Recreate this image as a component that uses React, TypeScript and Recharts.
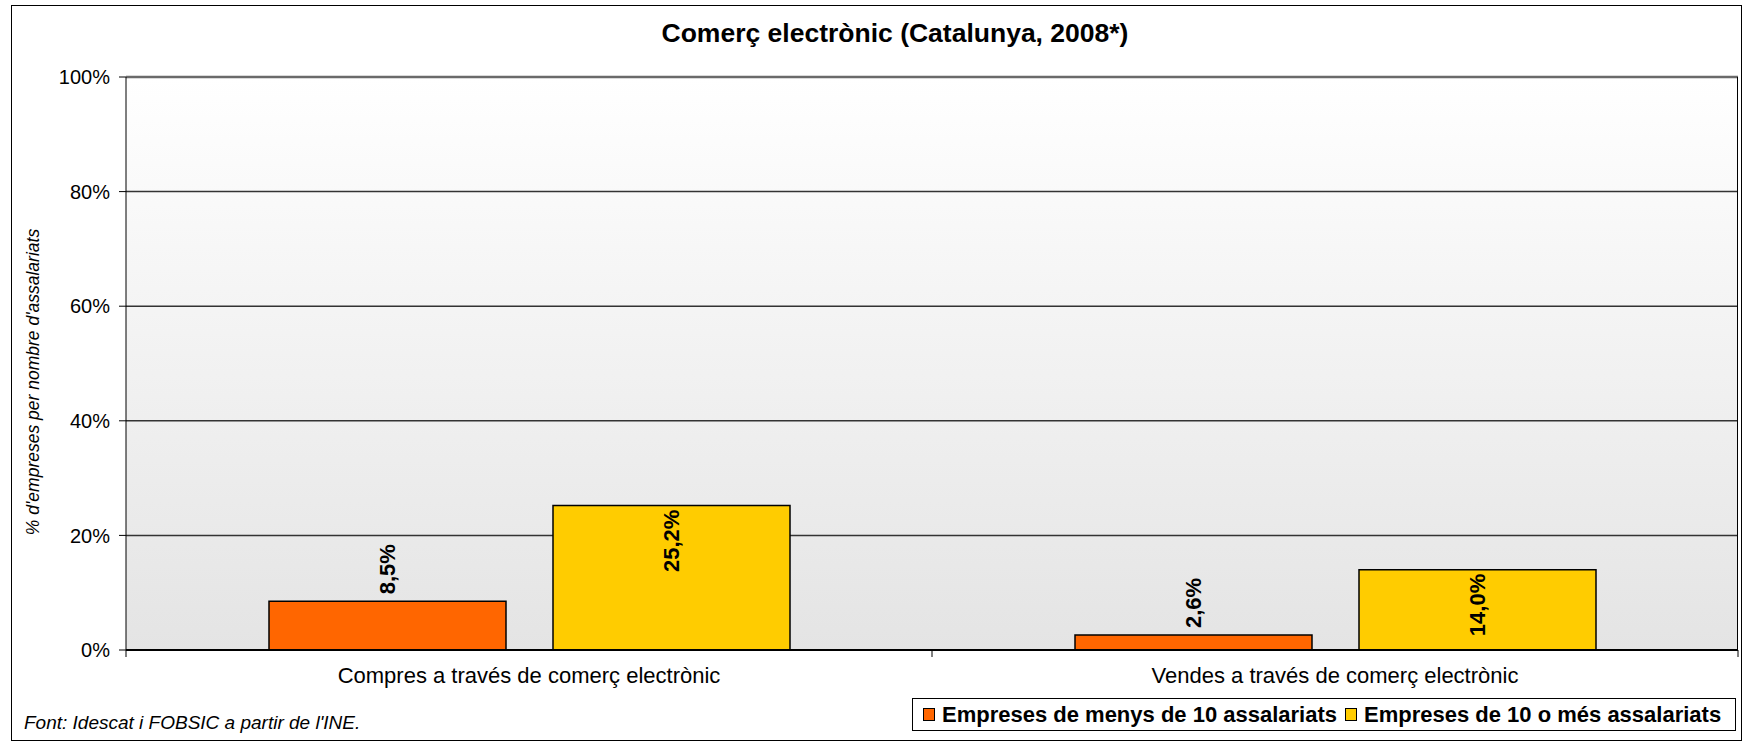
import React from "react";
import {
  BarChart,
  Bar,
  XAxis,
  YAxis,
  CartesianGrid,
  LabelList,
  ReferenceLine,
} from "recharts";

const categories = [
  "Compres a través de comerç electrònic",
  "Vendes a través de comerç electrònic",
];
const seriesNames = [
  "Empreses de menys de 10 assalariats",
  "Empreses de 10 o més assalariats",
];
const smallFirms = [8.5, 2.6];
const largeFirms = [25.2, 14.0];
const yTicks = [0, 20, 40, 60, 80, 100];

const title = "Comerç electrònic (Catalunya, 2008*)";
const yLabel = "% d'empreses per nombre d'assalariats";
const source = "Font: Idescat i FOBSIC a partir de l'INE.";

const W = 1742;
const H = 746;
const PLOT_LEFT = 126;
const PLOT_RIGHT = 1738;
const PLOT_TOP = 77;
const PLOT_BOTTOM = 650;
const BAND = (PLOT_RIGHT - PLOT_LEFT) / categories.length;
const FONT = "'Liberation Sans', Arial, sans-serif";
const COLORS = ["#FF6600", "#FFCC00"];

const data = categories.map((name, i) => ({
  name,
  small: smallFirms[i],
  large: largeFirms[i],
}));

const fmt = (v: number) => v.toFixed(1).replace(".", ",") + "%";

const XTick = (props: any) => {
  const { x, payload, index } = props;
  const left = x - BAND / 2;
  const right = x + BAND / 2;
  return (
    <g>
      <line x1={left} x2={left} y1={PLOT_BOTTOM} y2={PLOT_BOTTOM + 7} stroke="#000" />
      {index === categories.length - 1 && (
        <line x1={right} x2={right} y1={PLOT_BOTTOM} y2={PLOT_BOTTOM + 7} stroke="#000" />
      )}
      <text
        x={x}
        y={675}
        textAnchor="middle"
        dominantBaseline="central"
        fontSize={22}
        fontFamily={FONT}
        fill="#000"
      >
        {payload.value}
      </text>
    </g>
  );
};

const outsideLabel = (props: any) => {
  const { x, y, width, value } = props;
  const cx = x + width / 2;
  const cy = y - 7;
  return (
    <text
      x={cx}
      y={cy}
      transform={`rotate(-90 ${cx} ${cy})`}
      textAnchor="start"
      dominantBaseline="central"
      fontSize={22}
      fontWeight="bold"
      fontFamily={FONT}
      fill="#000"
    >
      {fmt(value)}
    </text>
  );
};

const insideLabel = (props: any) => {
  const { x, y, width, value } = props;
  const cx = x + width / 2;
  const cy = y + 4;
  return (
    <text
      x={cx}
      y={cy}
      transform={`rotate(-90 ${cx} ${cy})`}
      textAnchor="end"
      dominantBaseline="central"
      fontSize={22}
      fontWeight="bold"
      fontFamily={FONT}
      fill="#000"
    >
      {fmt(value)}
    </text>
  );
};

export default function App() {
  return (
    <div
      style={{
        position: "absolute",
        left: 0,
        top: 0,
        width: W,
        height: H,
        background: "#fff",
        fontFamily: FONT,
      }}
    >
      {/* outer frame */}
      <div
        style={{
          position: "absolute",
          left: 11,
          top: 5,
          width: 1729,
          height: 734,
          border: "1px solid #000",
        }}
      />
      <BarChart
        width={W}
        height={H}
        data={data}
        margin={{ top: PLOT_TOP, right: W - PLOT_RIGHT, bottom: 36, left: 0 }}
        barCategoryGap={143}
        barGap={47}
        style={{ position: "absolute", left: 0, top: 0 }}
      >
        <defs>
          <linearGradient id="plotBg" x1="0" y1="0" x2="0" y2="1">
            <stop offset="0%" stopColor="#ffffff" />
            <stop offset="100%" stopColor="#e4e4e4" />
          </linearGradient>
        </defs>
        <CartesianGrid
          vertical={false}
          stroke="#333"
          strokeWidth={1.5}
          fill="url(#plotBg)"
          fillOpacity={1}
        />
        <ReferenceLine y={100} stroke="#6a6a6a" strokeWidth={2.5} />
        <XAxis
          dataKey="name"
          height={60}
          axisLine={{ stroke: "#000", strokeWidth: 2 }}
          tickLine={false}
          tick={<XTick />}
          interval={0}
        />
        <YAxis
          width={PLOT_LEFT}
          domain={[0, 100]}
          ticks={yTicks}
          tickFormatter={(v: number) => `${v}%`}
          tickSize={7}
          tickMargin={9}
          axisLine={{ stroke: "#000" }}
          tickLine={{ stroke: "#000" }}
          tick={{ fontSize: 20, fill: "#000", fontFamily: FONT }}
        />
        <Bar
          dataKey="small"
          name={seriesNames[0]}
          fill={COLORS[0]}
          stroke="#000"
          strokeWidth={1.5}
          isAnimationActive={false}
        >
          <LabelList dataKey="small" content={outsideLabel} />
        </Bar>
        <Bar
          dataKey="large"
          name={seriesNames[1]}
          fill={COLORS[1]}
          stroke="#000"
          strokeWidth={1.5}
          isAnimationActive={false}
        >
          <LabelList dataKey="large" content={insideLabel} />
        </Bar>
      </BarChart>

      {/* plot right border */}
      <div
        style={{
          position: "absolute",
          left: PLOT_RIGHT - 1,
          top: PLOT_TOP,
          width: 1,
          height: PLOT_BOTTOM - PLOT_TOP,
          background: "#000",
        }}
      />

      <svg
        width={W}
        height={H}
        style={{ position: "absolute", left: 0, top: 0, pointerEvents: "none" }}
      >
        <text
          x={895}
          y={33}
          textAnchor="middle"
          dominantBaseline="central"
          fontSize={26.5}
          fontWeight="bold"
          fontFamily={FONT}
          fill="#000"
        >
          {title}
        </text>
        <text
          x={33}
          y={382}
          transform="rotate(-90 33 382)"
          textAnchor="middle"
          dominantBaseline="central"
          fontSize={17.5}
          fontStyle="italic"
          fontFamily={FONT}
          fill="#000"
        >
          {yLabel}
        </text>
        <text
          x={24}
          y={722}
          dominantBaseline="central"
          fontSize={19}
          fontStyle="italic"
          fontFamily={FONT}
          fill="#000"
        >
          {source}
        </text>
      </svg>

      {/* legend */}
      <div
        style={{
          position: "absolute",
          left: 912,
          top: 698,
          width: PLOT_RIGHT - 912 - 2,
          height: 33,
          border: "1px solid #000",
          display: "flex",
          alignItems: "center",
          paddingLeft: 10,
          boxSizing: "border-box",
          whiteSpace: "nowrap",
        }}
      >
        {seriesNames.map((name, i) => (
          <div
            key={name}
            style={{ display: "flex", alignItems: "center", marginRight: 8 }}
          >
            <span
              style={{
                display: "inline-block",
                width: 10,
                height: 11,
                background: COLORS[i],
                border: "1px solid #000",
                marginRight: 7,
              }}
            />
            <span style={{ fontSize: 22, fontWeight: "bold", color: "#000" }}>
              {name}
            </span>
          </div>
        ))}
      </div>
    </div>
  );
}
